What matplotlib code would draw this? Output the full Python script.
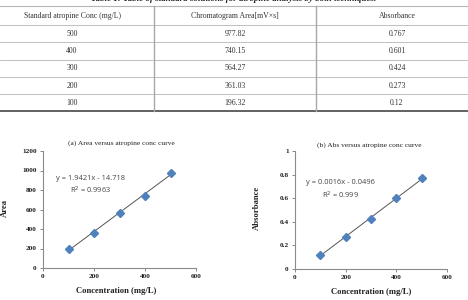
import numpy as np
import matplotlib
matplotlib.use("Agg")
import matplotlib.pyplot as plt
from matplotlib.lines import Line2D

# ---- data ----
conc = [500, 400, 300, 200, 100]
area = [977.82, 740.15, 564.27, 361.03, 196.32]
absorb = [0.767, 0.601, 0.424, 0.273, 0.12]
area_label = ["977.82", "740.15", "564.27", "361.03", "196.32"]
abs_label = ["0.767", "0.601", "0.424", "0.273", "0.12"]
headers = ["Standard atropine Conc (mg/L)", "Chromatogram Area[mV\u00d7s]", "Absorbance"]
x_ticks = [0, 200, 400, 600]
area_ticks = [0, 200, 400, 600, 800, 1000, 1200]
abs_ticks = [0, 0.2, 0.4, 0.6, 0.8, 1]

W, H = 468, 300
fig = plt.figure(figsize=(W / 100, H / 100), dpi=100)
fig.patch.set_facecolor("white")

SERIF = "Liberation Serif"
SANS = "Open Sans"

def fx(px):
    return px / W

def fy(py):
    return 1 - py / H

def hline(y, x0=0, x1=W, lw=0.6, color="#b0b0b0"):
    fig.add_artist(Line2D([fx(x0), fx(x1)], [fy(y), fy(y)], lw=lw, color=color))

def vline(x, y0, y1, lw=1.0, color="#a0a0a0"):
    fig.add_artist(Line2D([fx(x), fx(x)], [fy(y0), fy(y1)], lw=lw, color=color))

# ---- table title (partially cut at top, as in the reference) ----
fig.text(fx(234), fy(-1), "Table 1: Table of standard solutions for atropine analysis by both techniques.",
         ha="center", va="center", fontsize=6.5, fontweight="bold", fontstyle="italic",
         family=SERIF, color="#222222")

# ---- table ----
row_lines = [6, 25, 42, 59.5, 77, 94.5]
for y in row_lines:
    hline(y, lw=0.6 if y != 6 else 0.8, color="#b5b5b5")
hline(111, lw=1.3, color="#555555")
for x in [154, 316]:
    vline(x, 6, 111, lw=1.0, color="#a8a8a8")

col_x = [72, 235, 397]
fs_tab = 5.6
for cx, h in zip(col_x, headers):
    fig.text(fx(cx), fy(15.5), h, ha="center", va="center", fontsize=fs_tab, family=SERIF, color="#333333")
row_y = [33.5, 51, 68.5, 86, 103]
for ry, c, a, b in zip(row_y, conc, area_label, abs_label):
    fig.text(fx(col_x[0]), fy(ry), str(c), ha="center", va="center", fontsize=fs_tab, family=SERIF, color="#333333")
    fig.text(fx(col_x[1]), fy(ry), a, ha="center", va="center", fontsize=fs_tab, family=SERIF, color="#333333")
    fig.text(fx(col_x[2]), fy(ry), b, ha="center", va="center", fontsize=fs_tab, family=SERIF, color="#333333")


def make_axes(left, top, right, bottom):
    return fig.add_axes([fx(left), fy(bottom), (right - left) / W, (bottom - top) / H])


def style(ax, yticks, ylabels):
    for s in ["top", "right"]:
        ax.spines[s].set_visible(False)
    for s in ["left", "bottom"]:
        ax.spines[s].set_color("#8a8a8a")
        ax.spines[s].set_linewidth(0.8)
    ax.set_xlim(0, 600)
    ax.set_xticks(x_ticks)
    ax.set_xticklabels([str(t) for t in x_ticks])
    ax.set_yticks(yticks)
    ax.set_yticklabels(ylabels)
    ax.tick_params(direction="out", length=2.5, width=0.7, color="#8a8a8a", pad=2, labelsize=5.2)
    for lab in ax.get_xticklabels() + ax.get_yticklabels():
        lab.set_family(SERIF)
        lab.set_fontweight("bold")
        lab.set_color("#222222")


def fit_line(ax, x, y):
    m, c = np.polyfit(x, y, 1)
    xs = np.array([min(x), max(x)])
    ax.plot(xs, m * xs + c, color="#555555", lw=0.7, zorder=2)
    ax.plot(x, y, linestyle="none", marker="D", markersize=4.4, color="#4f81bd",
            markeredgecolor="#4f81bd", zorder=3)
    return m, c

# ---- plot (a) ----
ax1 = make_axes(43, 151, 196, 268)
ax1.set_ylim(0, 1200)
fit_line(ax1, conc, area)
style(ax1, area_ticks, [str(t) for t in area_ticks])
ax1.text(188, 923, "y = 1.9421x - 14.718", ha="center", va="center", fontsize=5.4, family=SANS, color="#444444")
ax1.text(188, 800, "R$^2$ = 0.9963", ha="center", va="center", fontsize=5.4, family=SANS, color="#444444")
fig.text(fx(121), fy(143), "(a) Area versus atropine conc curve", ha="center", va="center",
         fontsize=5.4, family=SERIF, color="#222222")
fig.text(fx(116), fy(291), "Concentration (mg/L)", ha="center", va="center",
         fontsize=6.2, family=SERIF, fontweight="bold", color="#222222")
fig.text(fx(5), fy(208), "Area", ha="center", va="center", rotation=90,
         fontsize=6.2, family=SERIF, fontweight="bold", color="#222222")

# ---- plot (b) ----
ax2 = make_axes(295, 151, 447, 269)
ax2.set_ylim(0, 1)
fit_line(ax2, conc, absorb)
style(ax2, abs_ticks, ["0", "0.2", "0.4", "0.6", "0.8", "1"])
ax2.text(178, 0.73, "y = 0.0016x - 0.0496", ha="center", va="center", fontsize=5.4, family=SANS, color="#444444")
ax2.text(178, 0.627, "R$^2$ = 0.999", ha="center", va="center", fontsize=5.4, family=SANS, color="#444444")
fig.text(fx(369), fy(145), "(b) Abs versus atropine conc curve", ha="center", va="center",
         fontsize=5.4, family=SERIF, color="#222222")
fig.text(fx(371), fy(292), "Concentration (mg/L)", ha="center", va="center",
         fontsize=6.2, family=SERIF, fontweight="bold", color="#222222")
fig.text(fx(257), fy(208), "Absorbance", ha="center", va="center", rotation=90,
         fontsize=6.2, family=SERIF, fontweight="bold", color="#222222")

fig.savefig("out.png", dpi=100, facecolor="white")
